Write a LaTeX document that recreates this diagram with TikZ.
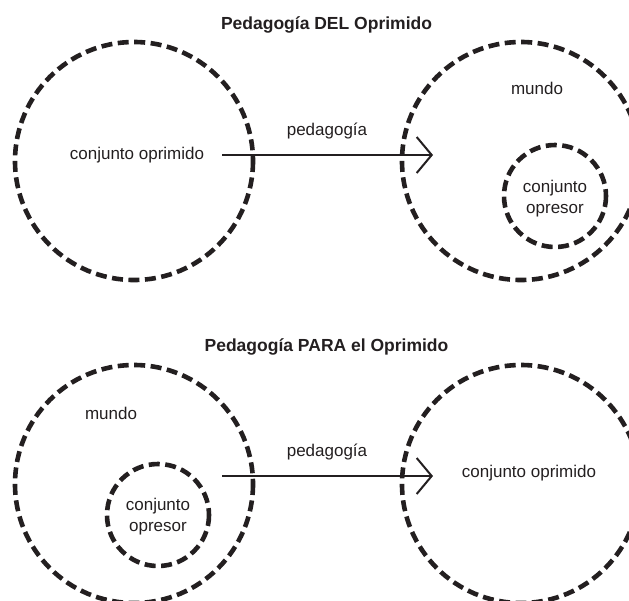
\documentclass[tikz,border=0pt]{standalone}
\usepackage{fontspec}
\setmainfont{Liberation Sans}
\usetikzlibrary{arrows.meta}
\definecolor{ink}{RGB}{35,31,32}
\begin{document}
\begin{tikzpicture}[x=1pt,y=-1pt,
  every node/.style={text=ink,font=\fontsize{17}{21}\selectfont,inner sep=0pt},
  heading/.style={font=\fontsize{17.5}{21}\selectfont\bfseries},
  setring/.style={draw=ink,line width=4.6pt,dash pattern=on 11pt off 5.5pt},
  flow/.style={draw=ink,line width=2pt,-{Straight Barb[length=15pt,width=36pt,line width=2pt]}},
  twoline/.style={align=center}]
\useasboundingbox (0,0) rectangle (629,600);
\clip (0,0) rectangle (629,600);

% ---- Pedagogía DEL Oprimido ----
\node[heading] (t1) at (326.5,25) {Pedagogía DEL Oprimido};
\draw[setring] (134,161) circle[radius=119];
\draw[setring] (521,161) circle[radius=119];
\draw[setring] (555,196) circle[radius=51];
\node (op1) at (137,155) {conjunto oprimido};
\node (mu1) at (537,88) {mundo};
\node[twoline] (ps1) at (555,199) {conjunto\\opresor};
\node (pe1) at (327,131) {pedagogía};
\coordinate (s1) at (222,155);
\coordinate (e1) at (433,155);
\draw[flow] (s1) -- (e1);

% ---- Pedagogía PARA el Oprimido ----
\node[heading] (t2) at (326.5,347) {Pedagogía PARA el Oprimido};
\draw[setring] (134,484) circle[radius=119];
\draw[setring] (521,484) circle[radius=119];
\draw[setring] (158,515) circle[radius=51];
\node (mu2) at (111,413) {mundo};
\node[twoline] (ps2) at (158,517) {conjunto\\opresor};
\node (pe2) at (327,452) {pedagogía};
\node (op2) at (529,473) {conjunto oprimido};
\coordinate (s2) at (222,476);
\coordinate (e2) at (433,476);
\draw[flow] (s2) -- (e2);
\end{tikzpicture}
\end{document}
